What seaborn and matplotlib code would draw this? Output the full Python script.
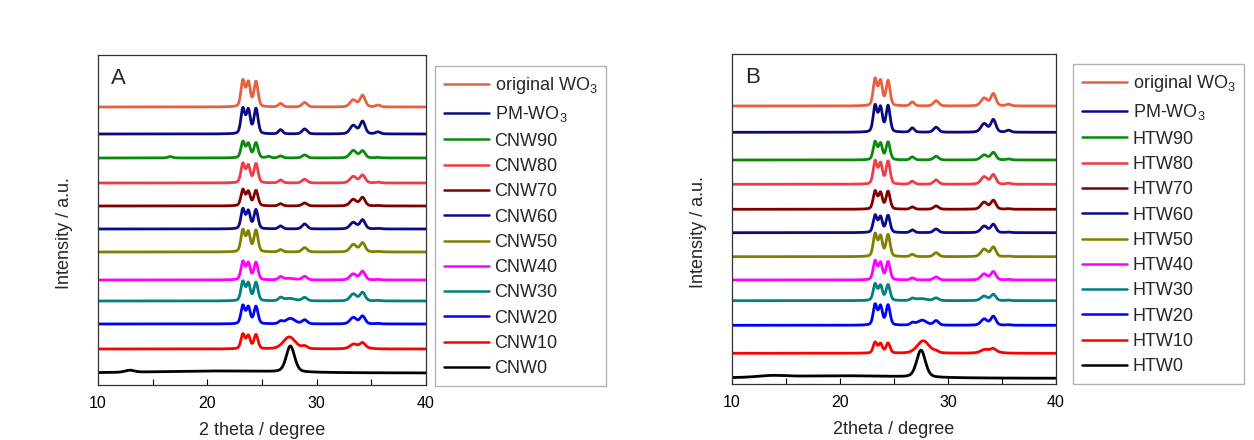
import numpy as np
import pandas as pd
import matplotlib
matplotlib.use("Agg")
import matplotlib.pyplot as plt
import seaborn as sns

'''
data read off the two XRD panels
'''
# scan range
two_theta = np.linspace(10, 40, 1801)

# WO3 reflections shared by all samples: position and width (degree)
wo3_pos = [23.25, 23.75, 24.45, 26.7, 28.9, 33.35, 34.2, 35.6]
wo3_fwhm = [0.42, 0.42, 0.44, 0.45, 0.55, 0.7, 0.55, 0.5]

colors = ['#E8603F', '#0A0A80', '#0A8A0A', '#F03C46', '#800000', '#0A0A8A',
          '#808000', '#FF00FF', '#008080', '#0000FF', '#FF0000', '#000000']

# panel A: g-C3N4 / WO3 (CNW)
names_A = ['original WO$_3$', 'PM-WO$_3$', 'CNW90', 'CNW80', 'CNW70', 'CNW60',
           'CNW50', 'CNW40', 'CNW30', 'CNW20', 'CNW10', 'CNW0']
offset_A = [278, 251, 227, 202, 179, 156, 133, 105, 84, 61, 36, 12]
wo3_h_A = [[26, 24, 25, 3.5, 4.5, 7, 11.5, 1.8],
           [25, 23.5, 25, 4.2, 5, 8.5, 12.5, 2],
           [16, 14, 15, 2, 3, 7.5, 7, 0.5],
           [19, 17, 19, 3, 3.7, 6.5, 7.8, 0.8],
           [16, 14, 15.3, 2.2, 3, 6.5, 8.5, 0.5],
           [19.5, 17.5, 19, 3, 5, 6.5, 9, 0.5],
           [21.5, 19.5, 21.5, 2.3, 4.3, 7.5, 9, 0.5],
           [18, 16.5, 17.3, 3, 3.5, 6, 8.5, 0.5],
           [19, 17.3, 18.3, 3, 3.5, 7, 8.5, 0.5],
           [18, 16.5, 17.3, 2.5, 4, 6.5, 7.8, 0.5],
           [14.5, 12.8, 14, 0, 2.5, 3.5, 4.5, 0],
           [0, 0, 0, 0, 0, 0, 0, 0]]
# other features (position, width, height)
extra_A = [[], [],
           [(16.6, 0.5, 1.5), (25.6, 0.4, 1.5)],
           [], [], [], [],
           [(27.5, 1.2, 1.5)],
           [(27.5, 1.2, 2.5)],
           [(27.6, 1.0, 5.5)],
           [(27.5, 1.3, 12), (33.9, 1.6, 2)],
           [(12.9, 1.0, 2), (21, 14, 2), (27.6, 0.9, 26)]]

# panel B: hydrothermal WO3 (HTW)
names_B = ['original WO$_3$', 'PM-WO$_3$', 'HTW90', 'HTW80', 'HTW70', 'HTW60',
           'HTW50', 'HTW40', 'HTW30', 'HTW20', 'HTW10', 'HTW0']
offset_B = [278, 251.7, 224, 199.7, 174.7, 151.3, 127.3, 104, 83.3, 58.7, 30.7, 5.7]
wo3_h_B = [[26.5, 24.3, 25, 4, 5.3, 7.8, 12.2, 1.7],
           [26.3, 24.3, 26.3, 4.3, 5, 8.5, 12.5, 2],
           [17.7, 16, 17.7, 3, 3.7, 5, 7.5, 1],
           [22.7, 20.3, 22.7, 3, 4.3, 7.5, 9.5, 1],
           [17.7, 16, 17.7, 2.3, 3.3, 7, 8.8, 0.5],
           [17, 15.3, 17, 2.7, 3.7, 6.5, 8.2, 0.5],
           [22.3, 20, 21.7, 2.3, 4, 7.5, 9.5, 0.5],
           [18.7, 16.7, 18, 2, 3, 6, 8.2, 0.5],
           [16.3, 14.7, 15.7, 2, 2.7, 4.5, 6.2, 0.5],
           [20.3, 18.7, 20, 2.3, 4.5, 6.2, 8.8, 0.5],
           [10.7, 9.3, 10, 0, 1.5, 2, 2.5, 0],
           [0, 0, 0, 0, 0, 0, 0, 0]]
extra_B = [[], [], [], [], [], [], [], [],
           [(27.5, 1.2, 2)],
           [(27.6, 1.0, 5)],
           [(27.7, 1.3, 12.5), (33.9, 1.6, 2.5)],
           [(13.7, 3.0, 1.5), (20, 14, 2.5), (27.5, 0.95, 27)]]


def peak(x, pos, fwhm, h, eta=0.3):
    g = np.exp(-4 * np.log(2) * ((x - pos) / fwhm) ** 2)
    l = 1 / (1 + ((x - pos) / (fwhm / 2)) ** 2)
    return h * ((1 - eta) * g + eta * l)


def build_df(names, offsets, wo3_h, extras):
    frames = []
    for name, off, hs, ex in zip(names, offsets, wo3_h, extras):
        y = np.full_like(two_theta, off, dtype=float)
        for p, w, h in zip(wo3_pos, wo3_fwhm, hs):
            y += peak(two_theta, p, w, h)
        for p, w, h in ex:
            y += peak(two_theta, p, w, h)
        frames.append(pd.DataFrame({'two_theta': two_theta, 'intensity': y, 'sample': name}))
    return pd.concat(frames, ignore_index=True)


df_A = build_df(names_A, offset_A, wo3_h_A, extra_A)
df_B = build_df(names_B, offset_B, wo3_h_B, extra_B)

'''
plot
'''
sns.set_theme(style="white")
plt.rcParams['font.family'] = ['Liberation Sans', 'DejaVu Sans']
plt.rcParams['mathtext.default'] = 'regular'

fig = plt.figure(figsize=(12.54, 4.40), dpi=100)
ax_A = fig.add_axes([98 / 1254, 55 / 440, 328 / 1254, 330 / 440])
ax_B = fig.add_axes([732 / 1254, 56 / 440, 324 / 1254, 330 / 440])

panels = [(ax_A, df_A, names_A, 'A', '2 theta / degree', 435 / 1254, 1 - 66 / 440),
          (ax_B, df_B, names_B, 'B', '2theta / degree', 1073 / 1254, 1 - 64 / 440)]

for ax, df, names, letter, xlab, lx, ly in panels:
    sns.lineplot(data=df, x='two_theta', y='intensity', hue='sample', hue_order=names,
                 palette=dict(zip(names, colors)), estimator=None, sort=False,
                 linewidth=2.0, ax=ax)
    ax.set_xlim(10, 40)
    ax.set_ylim(0, 330)
    ax.set_yticks([])
    ax.set_xticks([10, 20, 30, 40])
    ax.set_xticks([15, 25, 35], minor=True)
    ax.tick_params(axis='x', which='both', direction='in', length=4, width=0.8,
                   bottom=True, labelsize=11.5, pad=8, colors='black')
    for sp in ax.spines.values():
        sp.set_color('#333333')
        sp.set_linewidth(0.9)
    ax.set_xlabel(xlab, fontsize=13, labelpad=8)
    ax.set_ylabel('Intensity / a.u.', fontsize=13)
    ax.yaxis.set_label_coords(-0.076, 0.46)
    ax.text(0.04, 0.96, letter, transform=ax.transAxes, fontsize=16, va='top', ha='left')

    handles, labels = ax.get_legend_handles_labels()
    leg = ax.legend(handles, labels, loc='upper left', bbox_to_anchor=(lx, ly),
                    bbox_transform=fig.transFigure, borderaxespad=0, fontsize=13,
                    frameon=True, fancybox=False, edgecolor='#a0a0a0',
                    handlelength=2.5, handletextpad=0.3, labelspacing=0.46,
                    borderpad=0.5)
    leg.get_frame().set_linewidth(1)
    for line in leg.get_lines():
        line.set_linewidth(1.8)

fig.savefig('out.png', dpi=100)
